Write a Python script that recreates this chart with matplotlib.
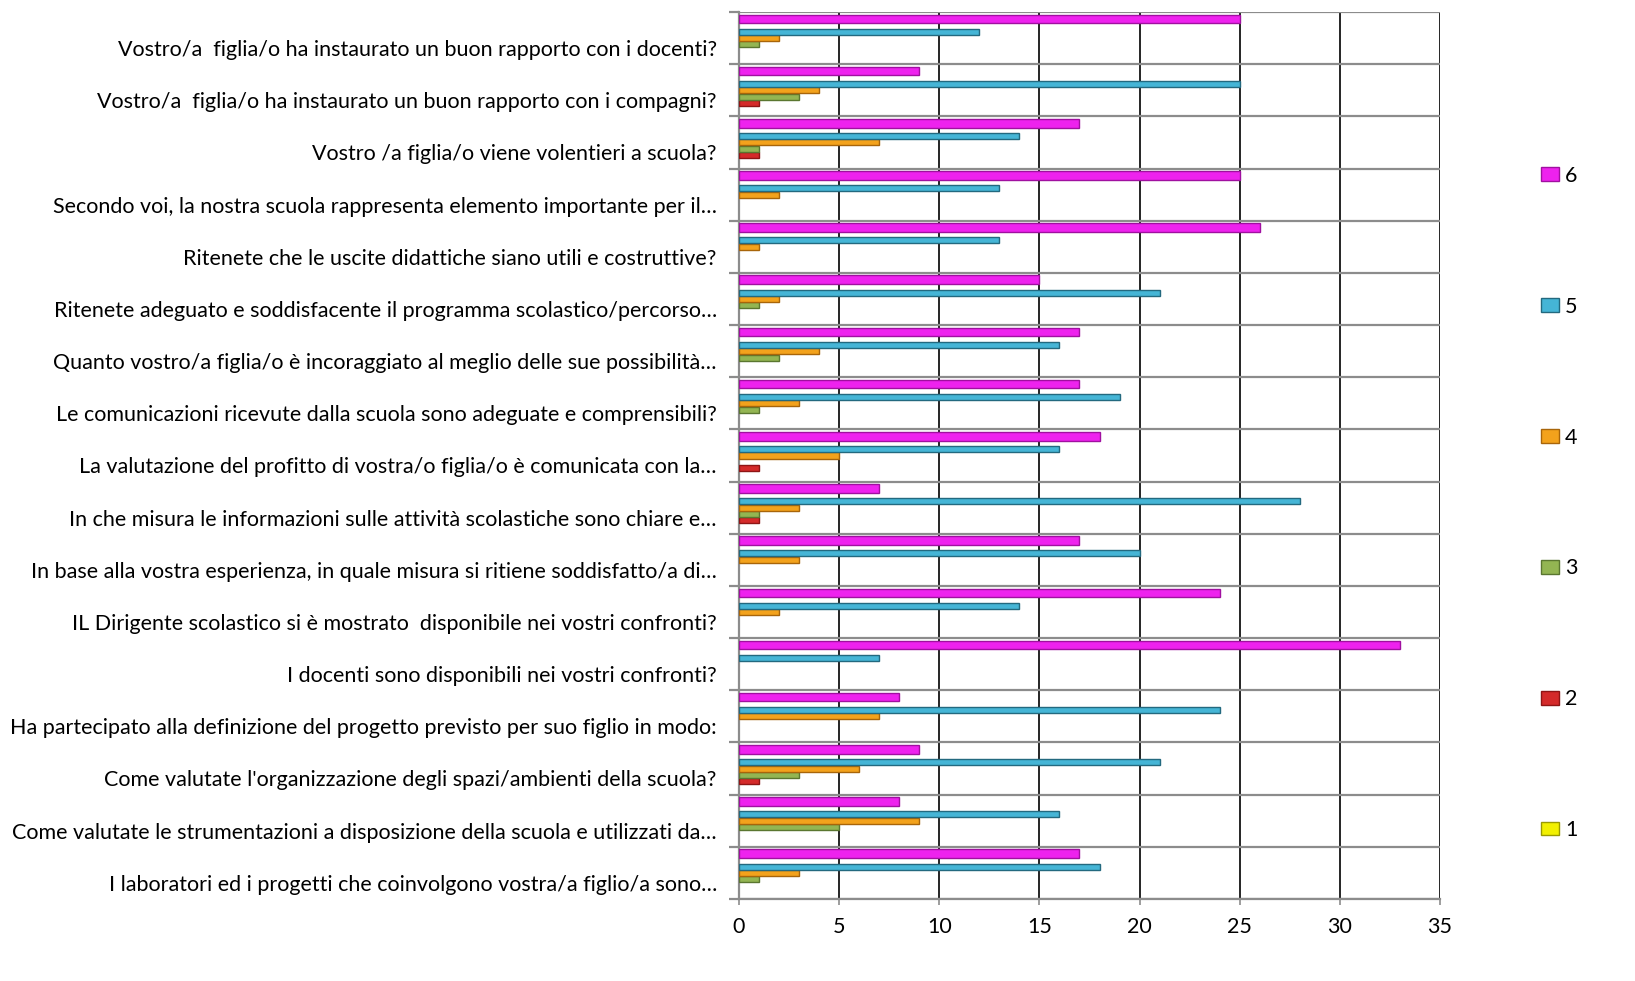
# grafico a barre orizzontali del questionario genitori
import matplotlib.pyplot as plt
import numpy as np
from matplotlib.patches import Patch

plt.rcParams['font.family'] = ['Lato', 'DejaVu Sans']

# domande (dall'alto in basso)
domande = [
    'Vostro/a  figlia/o ha instaurato un buon rapporto con i docenti?',
    'Vostro/a  figlia/o ha instaurato un buon rapporto con i compagni?',
    'Vostro /a figlia/o viene volentieri a scuola?',
    'Secondo voi, la nostra scuola rappresenta elemento importante per il…',
    'Ritenete che le uscite didattiche siano utili e costruttive?',
    'Ritenete adeguato e soddisfacente il programma scolastico/percorso…',
    'Quanto vostro/a figlia/o è incoraggiato al meglio delle sue possibilità…',
    'Le comunicazioni ricevute dalla scuola sono adeguate e comprensibili?',
    'La valutazione del profitto di vostra/o figlia/o è comunicata con la…',
    'In che misura le informazioni sulle attività scolastiche sono chiare e…',
    'In base alla vostra esperienza, in quale misura si ritiene soddisfatto/a di…',
    'IL Dirigente scolastico si è mostrato  disponibile nei vostri confronti?',
    'I docenti sono disponibili nei vostri confronti?',
    'Ha partecipato alla definizione del progetto previsto per suo figlio in modo:',
    "Come valutate l'organizzazione degli spazi/ambienti della scuola?",
    'Come valutate le strumentazioni a disposizione della scuola e utilizzati da…',
    'I laboratori ed i progetti che coinvolgono vostra/a figlio/a sono…',
]

# punteggi 1..6
serie = ['1', '2', '3', '4', '5', '6']
v1 = [0, 0, 0, 0, 0, 0, 0, 0, 0, 0, 0, 0, 0, 0, 0, 0, 0]
v2 = [0, 1, 1, 0, 0, 0, 0, 0, 1, 1, 0, 0, 0, 0, 1, 0, 0]
v3 = [1, 3, 1, 0, 0, 1, 2, 1, 0, 1, 0, 0, 0, 0, 3, 5, 1]
v4 = [2, 4, 7, 2, 1, 2, 4, 3, 5, 3, 3, 2, 0, 7, 6, 9, 3]
v5 = [12, 25, 14, 13, 13, 21, 16, 19, 16, 28, 20, 14, 7, 24, 21, 16, 18]
v6 = [25, 9, 17, 25, 26, 15, 17, 17, 18, 7, 17, 24, 33, 8, 9, 8, 17]
valori = [v1, v2, v3, v4, v5, v6]

colori = ['#F2F000', '#D42A2A', '#93B552', '#F3A21C', '#45B5D6', '#EE22EE']
bordi = ['#9A9A00', '#8E1515', '#5A7630', '#A8650A', '#23697F', '#A010A0']

fs = 15.5

fig = plt.figure(figsize=(16.35, 9.81), dpi=100)
ax = fig.add_axes([739 / 1635, 1 - 899 / 981, 701 / 1635, 887 / 981])

y = np.arange(len(domande))
w = 0.1226   # spazio per ogni barra
slot = [0, 1, 2, 3, 4, 6]   # la serie 6 lascia un posto vuoto
for k in range(6):
    vals = np.array(valori[k])
    off = (3 - slot[k]) * w
    h = 0.165 if k == 5 else 0.115
    lw = np.where(vals > 0, 1.0, 0.0)
    ax.barh(y + off, vals, height=h, color=colori[k], edgecolor=bordi[k],
            linewidth=lw, zorder=3)

# griglia
for xv in range(5, 36, 5):
    ax.axvline(xv, color='black', lw=1.2, zorder=1)
for b in np.arange(-0.5, len(domande), 1):
    ax.axhline(b, color='#8C8C8C', lw=1.6, zorder=2)

ax.set_xlim(0, 35)
ax.set_ylim(len(domande) - 0.5, -0.5)
ax.set_xticks(range(0, 36, 5))
ax.tick_params(axis='x', colors='#8C8C8C', length=4, width=1.2, pad=9,
               labelcolor='black', labelsize=fs)

ax.set_yticks(np.arange(-0.5, len(domande), 1))
ax.set_yticklabels([])
ax.tick_params(axis='y', which='major', colors='#8C8C8C', length=7, width=1.6)
ax.set_yticks(y + 0.19, minor=True)
ax.set_yticklabels(domande, minor=True, fontsize=fs)
ax.tick_params(axis='y', which='minor', length=0, pad=16)

for s in ['top', 'right']:
    ax.spines[s].set_visible(False)
ax.spines['left'].set_color('#8C8C8C')
ax.spines['left'].set_linewidth(1.6)
ax.spines['bottom'].set_color('#8C8C8C')
ax.spines['bottom'].set_linewidth(1.6)

# legenda a destra
handles = [Patch(facecolor=colori[k], edgecolor=bordi[k], label=serie[k]) for k in range(5, -1, -1)]
fig.legend(handles=handles, loc='center left', bbox_to_anchor=(1522 / 1635, 1 - 503 / 981),
           frameon=False, fontsize=fs, handlelength=0.8, handleheight=0.6,
           handletextpad=0.3, labelspacing=5.15)

fig.savefig('out.png', dpi=100)
